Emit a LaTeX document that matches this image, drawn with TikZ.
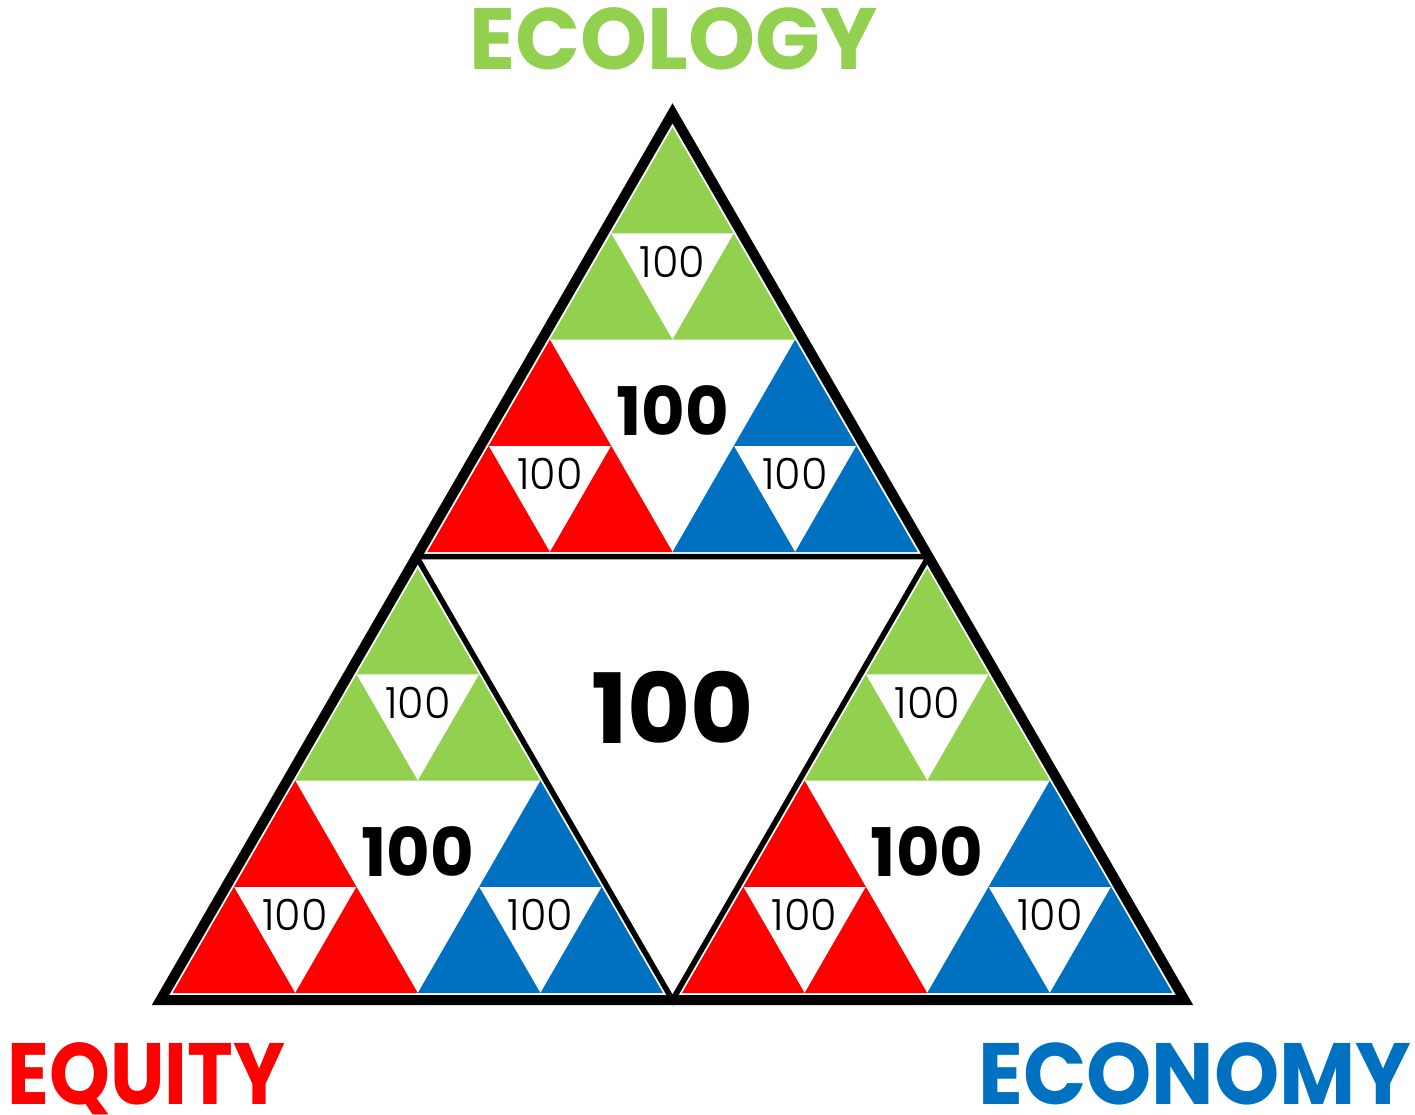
\documentclass[tikz,border=0pt]{standalone}
\usepackage{fontspec}
\setmainfont{Poppins}
\newfontfamily\thinfont{Poppins}[UprightFont=* Light]
\usetikzlibrary{calc}
\definecolor{ecogreen}{HTML}{92D050}
\definecolor{eqred}{HTML}{FF0000}
\definecolor{econblue}{HTML}{0070C0}
\tikzset{
  outerframe/.style={draw=black, line width=10pt},
  innerframe/.style={draw=black, line width=5.5pt},
  smallval/.style={font=\fontsize{43}{43}\thinfont, inner sep=0pt},
  midval/.style={font=\fontsize{67}{67}\selectfont\bfseries, inner sep=0pt},
  bigval/.style={font=\fontsize{97}{97}\selectfont\bfseries, inner sep=0pt},
  pillar/.style={font=\fontsize{87}{87}\selectfont\bfseries, inner sep=0pt, anchor=base, transform shape}
}

\begin{document}
\begin{tikzpicture}[x=1pt, y=-1pt]
  \useasboundingbox (0,0) rectangle (1415,1115);
  % coloured sub-triangles, apex of each, side 490.4
  \foreach \ax/\ay [count=\i] in {672.5/127.3, 417.8/568.3, 927.2/568.3}{
    \foreach \gx/\gy/\col [count=\j] in {\ax/\ay/ecogreen, \ax-122.6/\ay+212.35/eqred, \ax+122.6/\ay+212.35/econblue}{
      \foreach \dx/\dy in {0/0, -61.3/106.18, 61.3/106.18}{
        \fill[\col] (\gx+\dx, \gy+\dy) -- ++(-61.3,106.18) -- ++(122.6,0) -- cycle;
      }
      \node[smallval] (small\i\j) at (\gx, \gy+134.6) {100};
    }
    \node[midval] (mid\i) at (\ax, \ay+283.1) {100};
  }
  \node[bigval] (core) at (672.5, 707) {100};
  % frames
  \draw[innerframe] (416.5,556.6) -- (928.5,556.6) -- (672.5,1000) -- cycle;
  \draw[outerframe] (160.5,1000) -- (1184.5,1000) -- (672.5,113.3) -- cycle;
  % pillars
  \node[pillar, text=ecogreen, xscale=0.98] (ecology) at (673.5,70) {ECOLOGY};
  \node[pillar, text=eqred, xscale=0.89] (equity) at (146.5,1104) {EQUITY};
  \node[pillar, text=econblue, xscale=0.955] (economy) at (1195,1104) {ECONOMY};
\end{tikzpicture}
\end{document}
